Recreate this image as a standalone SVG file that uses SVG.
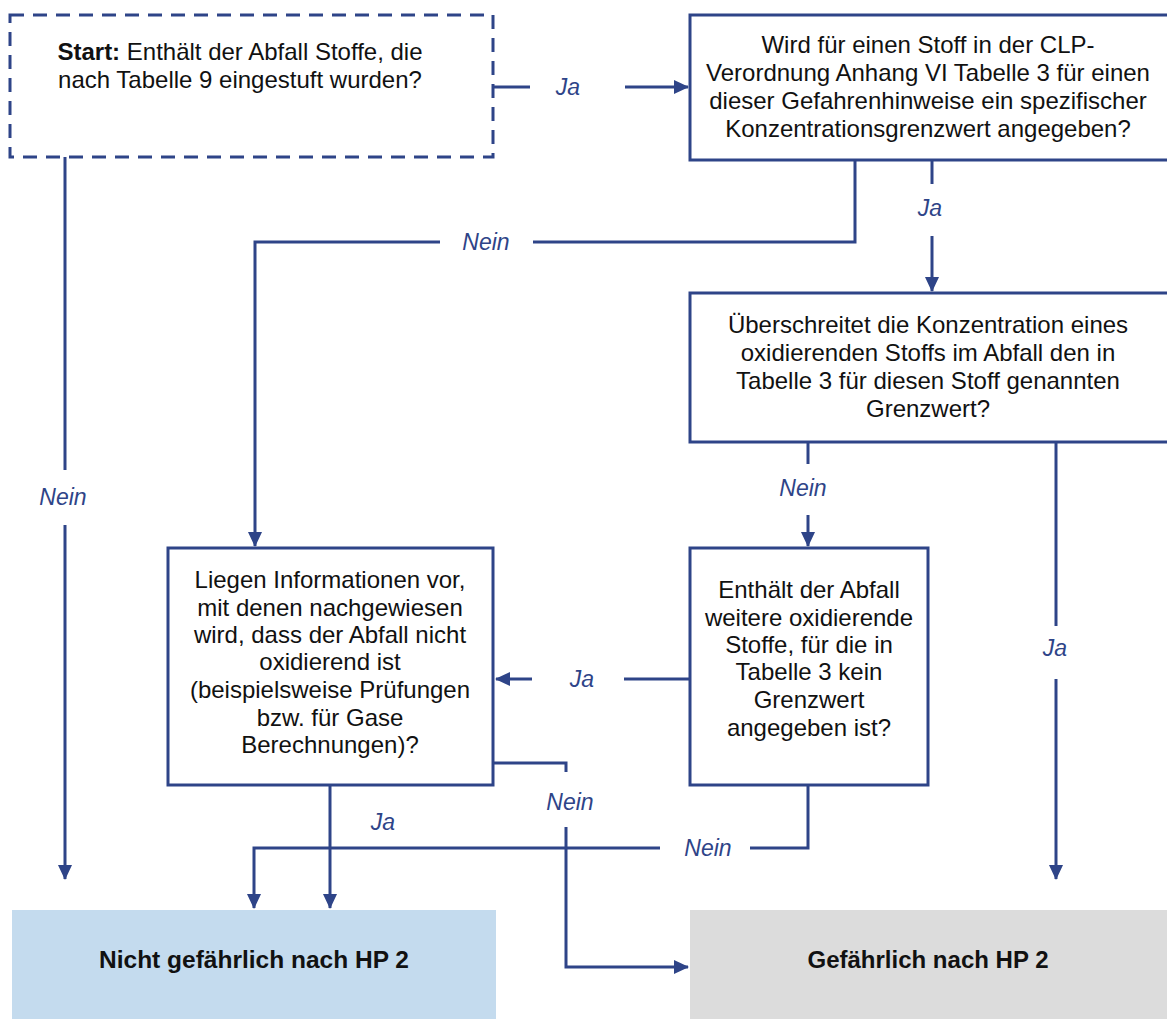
<svg xmlns="http://www.w3.org/2000/svg" width="1167" height="1019" viewBox="0 0 1167 1019">
<style>
.box{fill:#fff;stroke:#2E4488;stroke-width:3}
.dash{fill:#fff;stroke:#2E4488;stroke-width:3;stroke-dasharray:14 9}
.t{font-family:"Liberation Sans",Arial,sans-serif;font-size:24px;fill:#111;text-anchor:middle}
.b{font-weight:bold}
.f{font-size:24.5px}
.lbl{font-family:"Liberation Sans",Arial,sans-serif;font-size:23px;font-style:italic;fill:#2E4488;text-anchor:middle}
.c{fill:none;stroke:#2E4488;stroke-width:3}
.ca{fill:none;stroke:#2E4488;stroke-width:3;marker-end:url(#ah)}
</style>
<defs>
<marker id="ah" markerUnits="userSpaceOnUse" markerWidth="16" markerHeight="16" refX="14" refY="8" orient="auto">
<path d="M0,1 L15,8 L0,15 z" fill="#2E4488"/>
</marker>
</defs>
<rect width="1167" height="1019" fill="#fff"/>
<g id="connectors">
<path class="c" d="M493,87 H530"/>
<path class="ca" d="M625,87 H688"/>
<path class="c" d="M65,157 V470"/>
<path class="ca" d="M65,525 V879"/>
<path class="c" d="M855,160 V242 H533"/>
<path class="ca" d="M440,242 H255 V546"/>
<path class="c" d="M932,160 V184"/>
<path class="ca" d="M932,236 V291"/>
<path class="c" d="M808,442 V464"/>
<path class="ca" d="M808,515 V546"/>
<path class="c" d="M1056,442 V626"/>
<path class="ca" d="M1056,679 V879"/>
<path class="c" d="M690,679 H624"/>
<path class="ca" d="M532,679 H496"/>
<path class="ca" d="M330,785 V908"/>
<path class="c" d="M493,763 H566 V772"/>
<path class="ca" d="M566,827 V967 H688"/>
<path class="c" d="M808,785 V848 H750"/>
<path class="ca" d="M660,848 H254 V908"/>
</g>
<g id="labels">
<text class="lbl" x="568" y="95">Ja</text>
<text class="lbl" x="63" y="505">Nein</text>
<text class="lbl" x="486" y="250">Nein</text>
<text class="lbl" x="930" y="216">Ja</text>
<text class="lbl" x="803" y="496">Nein</text>
<text class="lbl" x="1055" y="656">Ja</text>
<text class="lbl" x="582" y="687">Ja</text>
<text class="lbl" x="383" y="830">Ja</text>
<text class="lbl" x="570" y="810">Nein</text>
<text class="lbl" x="708" y="856">Nein</text>
</g>
<g id="start">
<rect class="dash" x="10" y="15" width="483" height="142"/>
<text class="t" x="240" y="60"><tspan class="b">Start:</tspan> Enthält der Abfall Stoffe, die</text>
<text class="t" x="240" y="88">nach Tabelle 9 eingestuft wurden?</text>
</g>
<g id="clp">
<rect class="box" x="690" y="15" width="490" height="145"/>
<text class="t" x="928" y="53">Wird für einen Stoff in der CLP-</text>
<text class="t" x="928" y="81">Verordnung Anhang VI Tabelle 3 für einen</text>
<text class="t" x="928" y="109">dieser Gefahrenhinweise ein spezifischer</text>
<text class="t" x="928" y="137">Konzentrationsgrenzwert angegeben?</text>
</g>
<g id="grenzwert">
<rect class="box" x="690" y="293" width="490" height="149"/>
<text class="t" x="928" y="333">Überschreitet die Konzentration eines</text>
<text class="t" x="928" y="361">oxidierenden Stoffs im Abfall den in</text>
<text class="t" x="928" y="389">Tabelle 3 für diesen Stoff genannten</text>
<text class="t" x="928" y="417">Grenzwert?</text>
</g>
<g id="weitere">
<rect class="box" x="690" y="548" width="238" height="237"/>
<text class="t" x="809" y="598">Enthält der Abfall</text>
<text class="t" x="809" y="626">weitere oxidierende</text>
<text class="t" x="809" y="653">Stoffe, für die in</text>
<text class="t" x="809" y="680">Tabelle 3 kein</text>
<text class="t" x="809" y="708">Grenzwert</text>
<text class="t" x="809" y="736">angegeben ist?</text>
</g>
<g id="informationen">
<rect class="box" x="168" y="548" width="325" height="237"/>
<text class="t" x="330" y="588">Liegen Informationen vor,</text>
<text class="t" x="330" y="616">mit denen nachgewiesen</text>
<text class="t" x="330" y="643">wird, dass der Abfall nicht</text>
<text class="t" x="330" y="670">oxidierend ist</text>
<text class="t" x="330" y="698">(beispielsweise Prüfungen</text>
<text class="t" x="330" y="726">bzw. für Gase</text>
<text class="t" x="330" y="753">Berechnungen)?</text>
</g>
<g id="nicht-gefaehrlich">
<rect x="12" y="910" width="484" height="109" fill="#C4DBEE"/>
<text class="t b f" x="254" y="968">Nicht gefährlich nach HP 2</text>
</g>
<g id="gefaehrlich">
<rect x="690" y="910" width="477" height="109" fill="#DCDCDC"/>
<text class="t b" x="928" y="968">Gefährlich nach HP 2</text>
</g>
</svg>
